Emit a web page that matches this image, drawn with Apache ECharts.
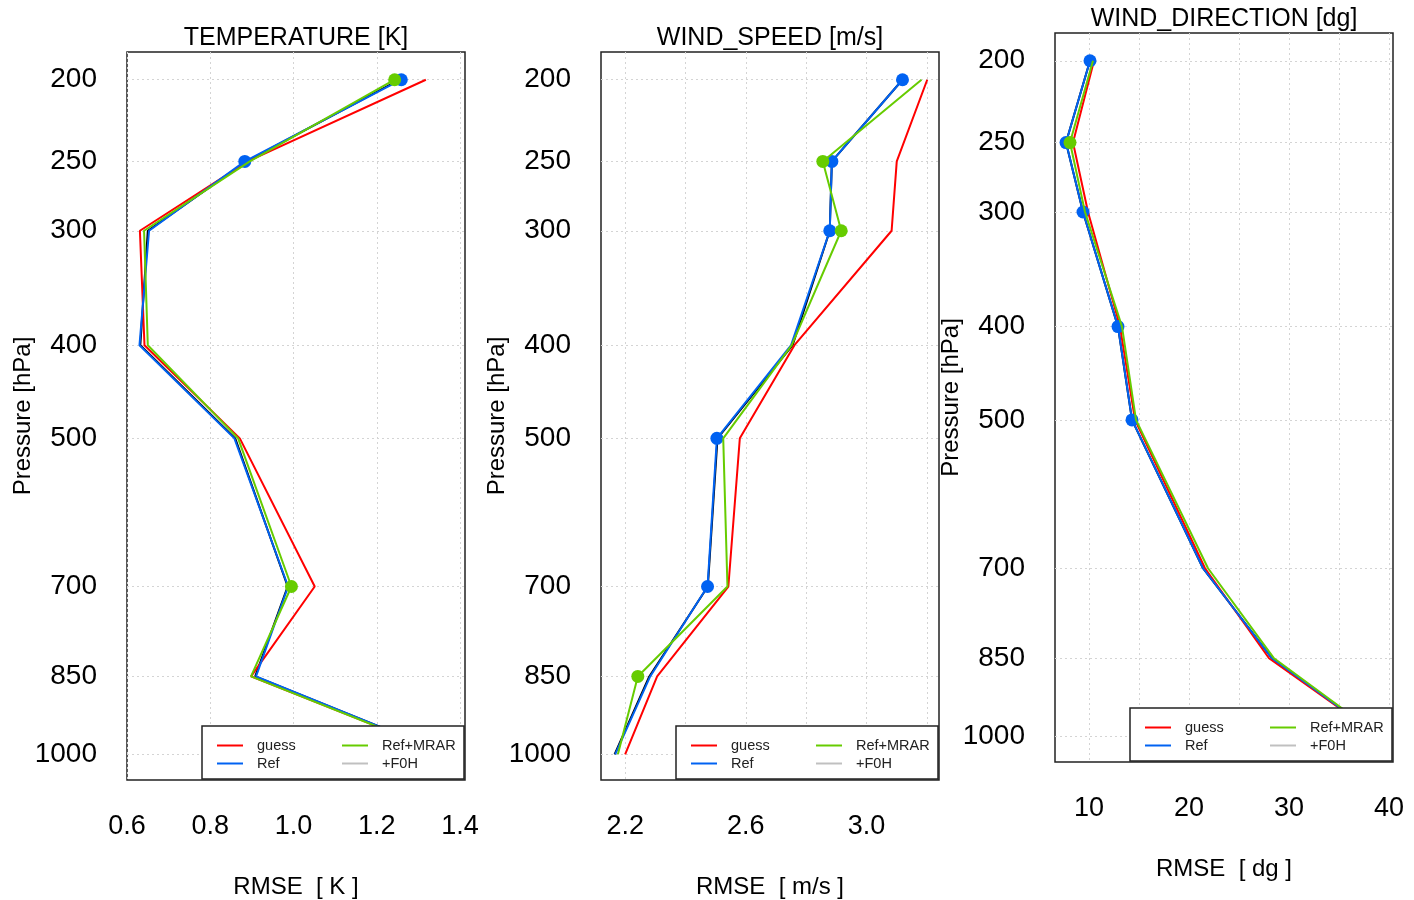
<!DOCTYPE html>
<html>
<head>
<meta charset="utf-8">
<script src="https://cdn.jsdelivr.net/npm/echarts@6/dist/echarts.min.js"></script>
<style>
  html, body { margin: 0; padding: 0; background: #fff; }
  #chart { width: 1414px; height: 900px; }
</style>
</head>
<body>
<div id="chart"></div>
<script>
var levels = [200, 250, 300, 400, 500, 700, 850, 1000];
var legendNames = ['guess', 'Ref', 'Ref+MRAR', '+F0H'];

// temperature [K]
var tempGuess = [1.318, 0.890, 0.631, 0.642, 0.871, 1.051, 0.898, 1.370];
var tempRef   = [1.259, 0.883, 0.653, 0.630, 0.858, 0.987, 0.910, 1.370];
var tempMrar  = [1.243, 0.895, 0.641, 0.650, 0.867, 0.995, 0.898, 1.368];
var tempBlack = [1.255, 0.887, 0.650, 0.632, 0.860, 0.986, 0.908, 1.370];
var tempRefDots  = [200, 250];
var tempMrarDots = [200, 700];

// wind speed [m/s]
var wsGuess = [3.201, 3.100, 3.083, 2.761, 2.580, 2.542, 2.306, 2.200];
var wsRef   = [3.119, 2.885, 2.878, 2.750, 2.504, 2.473, 2.283, 2.167];
var wsMrar  = [3.182, 2.855, 2.916, 2.752, 2.525, 2.539, 2.242, 2.176];
var wsBlack = [3.119, 2.885, 2.878, 2.755, 2.506, 2.474, 2.280, 2.165];
var wsRefDots  = [200, 250, 300, 500, 700];
var wsMrarDots = [250, 300, 850];

// wind direction [dg]
var wdGuess = [10.5, 8.4, 9.9, 13.1, 14.6, 21.6, 28.0, 39.0];
var wdRef   = [10.1, 7.7, 9.4, 12.9, 14.3, 21.4, 28.3, 39.0];
var wdMrar  = [10.4, 8.1, 9.6, 13.3, 14.7, 21.9, 28.5, 39.1];
var wdBlack = [10.1, 7.7, 9.4, 12.9, 14.3, 21.4, 28.3, 39.0];
var wdRefDots  = [200, 250, 300, 400, 500];
var wdMrarDots = [250];

var tempTicks = [0.6, 0.8, 1.0, 1.2, 1.4];
var tempLabels = [0.6, 0.8, 1.0, 1.2, 1.4];
var wsTicks = [2.2, 2.4, 2.6, 2.8, 3.0, 3.2];
var wsLabels = [2.2, 2.6, 3.0];
var wdTicks = [10, 15, 20, 25, 30, 35, 40];
var wdLabels = [10, 20, 30, 40];

var colors = { guess: '#ff0000', ref: '#0062f2', mrar: '#66cc00', f0h: '#c0c0c0', black: '#000000' };
var font = 'Liberation Sans, Arial, Helvetica, sans-serif';

// pressure axis follows the standard atmosphere height, p^0.19
var EXP = 0.19;
function pz(p) { return Math.pow(p, EXP); }
function zp(z) { return Math.round(Math.pow(z, 1 / EXP)); }

var chart = echarts.init(document.getElementById('chart'));

var panels = [
  { title: 'TEMPERATURE [K]', unit: 'RMSE  [ K ]', left: 127, top: 52, height: 728,
    xmin: 0.6, xmax: 1.412, ticks: tempTicks, labels: tempLabels, dec: 1,
    guess: tempGuess, ref: tempRef, mrar: tempMrar, black: tempBlack,
    refDots: tempRefDots, mrarDots: tempMrarDots },
  { title: 'WIND_SPEED [m/s]', unit: 'RMSE  [ m/s ]', left: 601, top: 52, height: 728,
    xmin: 2.12, xmax: 3.24, ticks: wsTicks, labels: wsLabels, dec: 1,
    guess: wsGuess, ref: wsRef, mrar: wsMrar, black: wsBlack,
    refDots: wsRefDots, mrarDots: wsMrarDots },
  { title: 'WIND_DIRECTION [dg]', unit: 'RMSE  [ dg ]', left: 1055, top: 33, height: 729,
    xmin: 6.6, xmax: 40.4, ticks: wdTicks, labels: wdLabels, dec: 0,
    guess: wdGuess, ref: wdRef, mrar: wdMrar, black: wdBlack,
    refDots: wdRefDots, mrarDots: wdMrarDots }
];

function lineData(values, dots) {
  return values.map(function (v, i) {
    var item = { value: [v, pz(levels[i])] };
    if (dots && dots.indexOf(levels[i]) !== -1) {
      item.symbol = 'circle';
    }
    return item;
  });
}

function lineSeries(name, values, color, idx, dots, z) {
  return {
    name: name,
    type: 'line',
    xAxisIndex: idx,
    yAxisIndex: idx,
    data: lineData(values, dots),
    symbol: 'none',
    symbolSize: 13,
    showAllSymbol: true,
    itemStyle: { color: color },
    lineStyle: { color: color, width: 2 },
    z: z,
    silent: true,
    animation: false
  };
}

var option = {
  backgroundColor: '#fff',
  textStyle: { fontFamily: font, color: '#000' },
  title: [],
  legend: [],
  grid: [],
  xAxis: [],
  yAxis: [],
  series: []
};

panels.forEach(function (pn, idx) {
  option.title.push({
    text: pn.title,
    left: pn.left + 169,
    top: pn.top - 26,
    textAlign: 'center',
    textVerticalAlign: 'top',
    textStyle: { fontFamily: font, fontSize: 25, fontWeight: 'normal', color: '#000' },
    padding: 0
  });
  option.grid.push({
    left: pn.left, top: pn.top, width: 338, height: pn.height,
    show: true, borderColor: '#222', borderWidth: 1.5,
    containLabel: false, outerBoundsMode: 'none'
  });
  option.xAxis.push({
    type: 'value', gridIndex: idx, min: pn.xmin, max: pn.xmax,
    name: pn.unit, nameLocation: 'middle', nameGap: 95,
    nameTextStyle: { fontFamily: font, fontSize: 24, color: '#000' },
    axisLine: { show: false },
    axisTick: { show: false, customValues: pn.ticks },
    axisLabel: {
      customValues: pn.labels, margin: 33, fontSize: 27, color: '#000', fontFamily: font,
      formatter: function (v) { return v.toFixed(pn.dec); }
    },
    splitLine: { show: true, lineStyle: { color: '#d4d4d4', type: [2, 3], width: 1 } }
  });
  option.yAxis.push({
    type: 'value', gridIndex: idx, inverse: true, min: pz(185), max: pz(1054),
    name: 'Pressure [hPa]', nameLocation: 'middle', nameGap: 92, nameRotate: 90,
    nameMoveOverlap: false,
    nameTextStyle: { fontFamily: font, fontSize: 24, color: '#000' },
    axisLine: { show: false },
    axisTick: { show: false, customValues: levels.map(pz) },
    axisLabel: {
      customValues: levels.map(pz), margin: 30, fontSize: 28, color: '#000', fontFamily: font,
      formatter: function (v) { return String(zp(v)); }
    },
    splitLine: { show: true, lineStyle: { color: '#d4d4d4', type: [2, 3], width: 1 } }
  });
  option.legend.push({
    data: legendNames,
    orient: 'vertical',
    left: pn.left + 75,
    top: pn.top + pn.height - 54,
    height: 40,
    padding: [12, 0, 8, 15],
    itemGap: 3,
    itemWidth: 26,
    itemHeight: 2,
    icon: 'rect',
    backgroundColor: '#fff',
    borderColor: '#222',
    borderWidth: 1.5,
    borderRadius: 0,
    selectedMode: false,
    textStyle: { fontFamily: font, fontSize: 14.5, color: '#222', width: 82, lineHeight: 15, padding: [0, 0, 0, 9] },
    z: 10
  });
  option.series.push(lineSeries('', pn.black, colors.black, idx, null, 1));
  option.series.push(lineSeries('+F0H', [], colors.f0h, idx, null, 2));
  option.series.push(lineSeries('guess', pn.guess, colors.guess, idx, null, 3));
  option.series.push(lineSeries('Ref', pn.ref, colors.ref, idx, pn.refDots, 4));
  option.series.push(lineSeries('Ref+MRAR', pn.mrar, colors.mrar, idx, pn.mrarDots, 5));
});

chart.setOption(option);
</script>
</body>
</html>
